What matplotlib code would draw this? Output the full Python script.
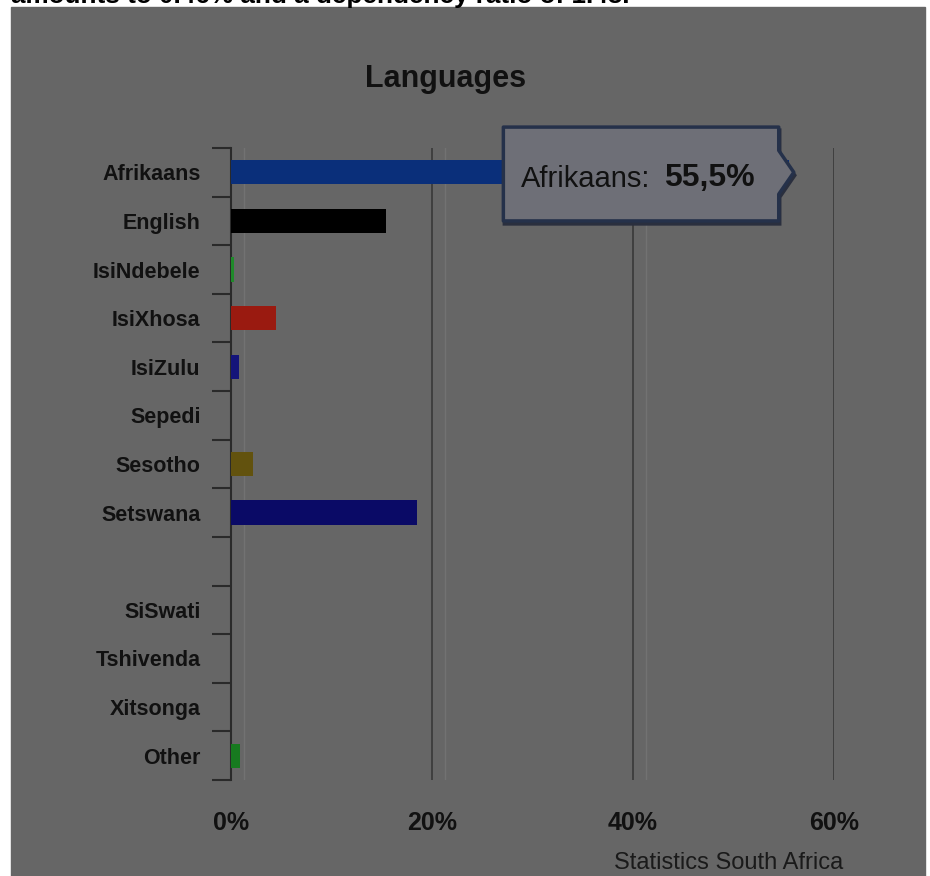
import matplotlib.pyplot as plt
import matplotlib.patches as mpatches
import matplotlib.transforms as mtransforms
import numpy as np

# Home language shares (percent), Statistics South Africa
languages = ['Afrikaans', 'English', 'IsiNdebele', 'IsiXhosa', 'IsiZulu', 'Sepedi',
             'Sesotho', 'Setswana', '', 'SiSwati', 'Tshivenda', 'Xitsonga', 'Other']
shares = [55.5, 15.4, 0.3, 4.5, 0.8, 0.0, 2.2, 18.5, 0.0, 0.0, 0.0, 0.0, 0.9]
bar_colors = ['#0a2f7a', '#000000', '#1f8a2a', '#9a1a10', '#14147a', '#14147a',
              '#62520e', '#0a0a66', '#000000', '#000000', '#000000', '#000000', '#177a1f']
xticks = [0, 20, 40, 60]
highlight = 0  # Afrikaans

plt.rcParams['font.family'] = ['Liberation Sans', 'DejaVu Sans']
ink = '#111111'

W, H = 930, 876
fig = plt.figure(figsize=(W / 100, H / 100), dpi=100, facecolor='white')

def px(x, y):
    return x / W, 1 - y / H

# dark backdrop behind the chart
fig.patches.append(mpatches.Rectangle(px(11, 876), 914 / W, 869 / H,
                                      transform=fig.transFigure, color='#666666', zorder=-5))

# tail of the paragraph above the chart
fig.text(*px(11, 3.5), 'amounts to 0.46% and a dependency ratio of 1.48.',
         weight='bold', fontsize=18.8, color='black', va='baseline', ha='left')

ax = fig.add_axes([231 / W, 96 / H, 603 / W, 632 / H])
ax.set_facecolor('none')

y = np.arange(len(languages))
ax.barh(y, shares, height=0.5, color=bar_colors, zorder=3)

ax.set_xlim(0, 60)
ax.set_ylim(len(languages) - 0.5, -0.5)

for s in ['top', 'right', 'bottom']:
    ax.spines[s].set_visible(False)
ax.spines['left'].set_color('#2a2a2a')
ax.spines['left'].set_linewidth(1.5)

# grid lines, each with a faint lighter twin just to the right
for v in xticks:
    if v > 0:
        ax.axvline(v, color='#3d3d3d', lw=1.3, zorder=1)
    ax.axvline(v + 1.3, color='#727272', lw=1.0, zorder=1)

# y ticks sit between rows, labels at the row centres
ax.set_yticks(np.arange(len(languages) + 1) - 0.5)
ax.set_yticklabels([])
ax.set_yticks(y, minor=True)
ax.set_yticklabels(languages, minor=True, fontsize=15.5, weight='bold', color=ink)
ax.tick_params(axis='y', which='major', length=14, width=1.5, color='#2a2a2a')
ax.tick_params(axis='y', which='minor', length=0, pad=22)

ax.set_xticks(xticks)
ax.set_xticklabels([f'{v}%' for v in xticks], fontsize=18, weight='bold', color=ink)
ax.tick_params(axis='x', length=0, pad=22)

fig.text(*px(446, 87), 'Languages', fontsize=22, weight='bold', color=ink,
         ha='center', va='baseline')

fig.text(*px(843, 869), 'Statistics South Africa', fontsize=17,
         color='#1a1a1a', ha='right', va='baseline')

# tooltip pointing at the highlighted bar end
val = shares[highlight]
tip_x = val + 0.5
box_r = val - 1.0
box_l = box_r - 27.4
box_t, box_b = highlight - 0.93, highlight + 1.0
outline = [(box_l, box_t), (box_r, box_t), (box_r, highlight - 0.45),
           (tip_x, highlight), (box_r, highlight + 0.45), (box_r, box_b),
           (box_l, box_b)]
shadow_tr = mtransforms.offset_copy(ax.transData, fig=fig, x=1, y=-3, units='dots')
ax.add_patch(mpatches.Polygon(outline, closed=True, facecolor='#2a2f3e', edgecolor='#2a2f3e',
                              lw=2.5, transform=shadow_tr, zorder=4, clip_on=False))
ax.add_patch(mpatches.Polygon(outline, closed=True, facecolor='#6e6f77',
                              edgecolor='#25314a', lw=2.5, joinstyle='round',
                              zorder=5, clip_on=False))
label = ax.text(box_l + 1.7, highlight + 0.3, f'{languages[highlight]}:', fontsize=21,
                color=ink, va='baseline', ha='left', zorder=6)
ax.annotate(f'{val:.1f}%'.replace('.', ','), xy=(1, 0), xycoords=label,
            xytext=(10, 0), textcoords='offset points', fontsize=23, weight='bold',
            color=ink, va='bottom', ha='left', zorder=6)

fig.savefig('out.png', dpi=100, facecolor='white')
